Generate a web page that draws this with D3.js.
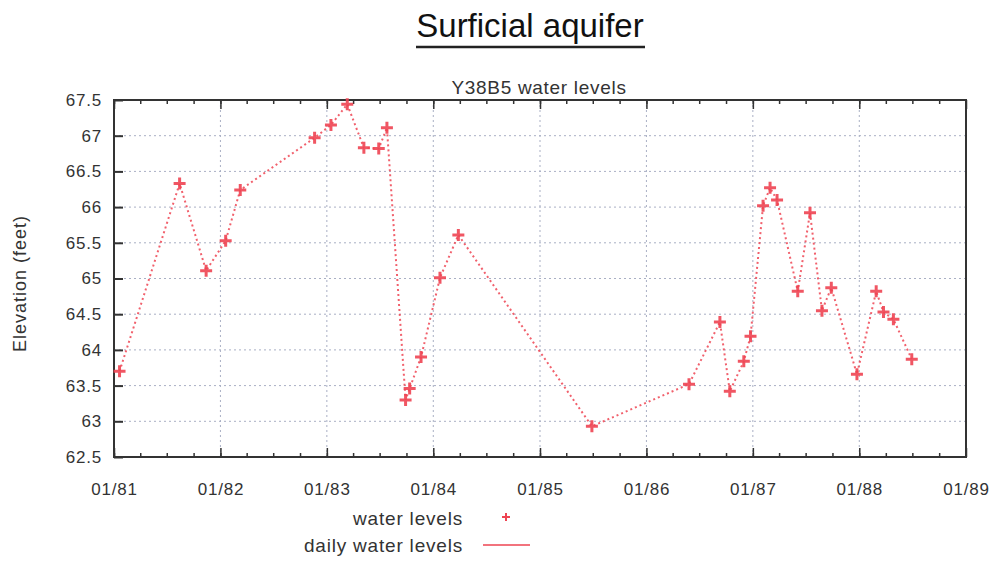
<!DOCTYPE html>
<html>
<head>
<meta charset="utf-8">
<script src="https://cdn.jsdelivr.net/npm/d3@7/dist/d3.min.js"></script>
<style>
  body { margin: 0; background: #fff; }
  svg { font-family: "Liberation Sans", Arial, sans-serif; }
  .axis path, .axis line { stroke: #333; }
  .axis text { fill: #333; font-size: 17px; letter-spacing: 0.8px; }
</style>
</head>
<body>
<div id="chart"></div>
<script>
var sampleDates = [
  '1981-01-20', '1981-08-14', '1981-11-13', '1982-01-19', '1982-03-10',
  '1982-11-20', '1983-01-15', '1983-03-12', '1983-05-08', '1983-06-28',
  '1983-07-26', '1983-09-28', '1983-10-12', '1983-11-20', '1984-01-24',
  '1984-03-27', '1985-06-28', '1986-05-27', '1986-09-10', '1986-10-14',
  '1986-12-01', '1986-12-24', '1987-02-05', '1987-03-01', '1987-03-25',
  '1987-06-04', '1987-07-16', '1987-08-26', '1987-09-27', '1987-12-24',
  '1988-02-28', '1988-03-24', '1988-04-27', '1988-06-29'
];
var waterLevels = [
  63.70, 66.33, 65.11, 65.53, 66.24,
  66.97, 67.15, 67.44, 66.83, 66.82,
  67.11, 63.30, 63.46, 63.90, 65.01,
  65.61, 62.93, 63.52, 64.39, 63.42,
  63.84, 64.19, 66.02, 66.27, 66.10,
  64.82, 65.92, 64.55, 64.87, 63.66,
  64.82, 64.53, 64.43, 63.87
];
var yTicks = [62.5, 63, 63.5, 64, 64.5, 65, 65.5, 66, 66.5, 67, 67.5];
var xTickYears = ['1981', '1982', '1983', '1984', '1985', '1986', '1987', '1988', '1989'];

var parseDate = d3.timeParse('%Y-%m-%d');
var parseYear = d3.timeParse('%Y');

var data = sampleDates.map(function(d, i) {
  return {date: parseDate(d), value: waterLevels[i]};
});
var xTicks = xTickYears.map(parseYear);

var svg = d3.select('#chart').append('svg')
    .attr('width', 995)
    .attr('height', 561);

var plot = {left: 114, right: 966, top: 100, bottom: 457};

var x = d3.scaleTime()
    .domain([xTicks[0], xTicks[xTicks.length - 1]])
    .range([plot.left, plot.right]);
var y = d3.scaleLinear()
    .domain([yTicks[0], yTicks[yTicks.length - 1]])
    .range([plot.bottom, plot.top]);

var red = '#ee4452';

// Titles.
svg.append('text')
    .attr('x', 530).attr('y', 37)
    .attr('text-anchor', 'middle')
    .style('font-size', '33px')
    .attr('fill', '#111')
    .text('Surficial aquifer');
svg.append('line')
    .attr('x1', 416).attr('x2', 645)
    .attr('y1', 47).attr('y2', 47)
    .attr('stroke', '#222').attr('stroke-width', 2.5);

svg.append('text')
    .attr('x', 539).attr('y', 94)
    .attr('text-anchor', 'middle')
    .style('font-size', '19px')
    .style('letter-spacing', '0.7px')
    .attr('fill', '#333')
    .text('Y38B5 water levels');

svg.append('text')
    .attr('transform', 'translate(26,' + ((plot.top + plot.bottom) / 2 + 5) + ') rotate(-90)')
    .attr('text-anchor', 'middle')
    .style('font-size', '18px')
    .style('letter-spacing', '1px')
    .attr('fill', '#333')
    .text('Elevation (feet)');

// Dotted grid at each major tick.
var grid = svg.append('g')
    .attr('stroke', '#a9afc4')
    .attr('stroke-width', 1)
    .attr('stroke-dasharray', '2,3');
grid.selectAll('.hgrid')
    .data(yTicks.slice(1, -1))
    .enter().append('line')
    .attr('x1', plot.left).attr('x2', plot.right)
    .attr('y1', function(d) { return y(d); })
    .attr('y2', function(d) { return y(d); });
grid.selectAll('.vgrid')
    .data(xTicks.slice(1, -1))
    .enter().append('line')
    .attr('y1', plot.top).attr('y2', plot.bottom)
    .attr('x1', function(d) { return x(d); })
    .attr('x2', function(d) { return x(d); });

// Axes, ticks pointing inward like gnuplot.
var fmtDate = d3.timeFormat('%m/%y');
var quarters = d3.timeMonth.every(3).range(xTicks[0], xTicks[xTicks.length - 1]);

function noDomain(g) {
  g.select('.domain').remove();
}

svg.append('g')
    .attr('class', 'axis')
    .attr('transform', 'translate(0,' + plot.bottom + ')')
    .call(d3.axisBottom(x).tickValues(quarters).tickSize(-4).tickFormat(''))
    .call(noDomain)
    .selectAll('line').attr('stroke-width', 1.5);
svg.append('g')
    .attr('class', 'axis')
    .attr('transform', 'translate(0,' + plot.top + ')')
    .call(d3.axisTop(x).tickValues(quarters).tickSize(-4).tickFormat(''))
    .call(noDomain)
    .selectAll('line').attr('stroke-width', 1.5);

svg.append('g')
    .attr('class', 'axis')
    .attr('transform', 'translate(0,' + plot.bottom + ')')
    .call(d3.axisBottom(x).tickValues(xTicks).tickSize(-9).tickPadding(26).tickFormat(fmtDate))
    .call(noDomain)
    .selectAll('line').attr('stroke-width', 1.5);
svg.append('g')
    .attr('class', 'axis')
    .attr('transform', 'translate(0,' + plot.top + ')')
    .call(d3.axisTop(x).tickValues(xTicks).tickSize(-9).tickFormat(''))
    .call(noDomain)
    .selectAll('line').attr('stroke-width', 1.5);

svg.append('g')
    .attr('class', 'axis')
    .attr('transform', 'translate(' + plot.left + ',0)')
    .call(d3.axisLeft(y).tickValues(yTicks).tickSize(-9).tickPadding(12).tickFormat(d3.format('')))
    .call(noDomain)
    .selectAll('line').attr('stroke-width', 2);

svg.append('rect')
    .attr('x', plot.left).attr('y', plot.top)
    .attr('width', plot.right - plot.left)
    .attr('height', plot.bottom - plot.top)
    .attr('fill', 'none')
    .attr('stroke', '#333')
    .attr('stroke-width', 2);

// Dotted line through the samples.
var line = d3.line()
    .x(function(d) { return x(d.date); })
    .y(function(d) { return y(d.value); });

svg.append('path')
    .datum(data)
    .attr('d', line)
    .attr('fill', 'none')
    .attr('stroke', red)
    .attr('stroke-opacity', 0.85)
    .attr('stroke-width', 2)
    .attr('stroke-dasharray', '2,3');

// Plus markers, drawn as two strokes.
function plusPath(r) {
  return 'M' + (-r) + ',0H' + r + 'M0,' + (-r) + 'V' + r;
}

svg.selectAll('.marker')
    .data(data)
    .enter().append('path')
    .attr('class', 'marker')
    .attr('d', plusPath(6))
    .attr('transform', function(d) {
      return 'translate(' + x(d.date) + ',' + y(d.value) + ')';
    })
    .attr('stroke', red)
    .attr('stroke-width', 3)
    .attr('stroke-opacity', 0.9);

// Legend.
var legend = svg.append('g')
    .attr('fill', '#333')
    .style('font-size', '19px')
    .style('letter-spacing', '0.8px');
legend.append('text')
    .attr('x', 463).attr('y', 525)
    .attr('text-anchor', 'end')
    .text('water levels');
legend.append('path')
    .attr('d', plusPath(4))
    .attr('transform', 'translate(506,517)')
    .attr('stroke', red)
    .attr('stroke-width', 2);
legend.append('text')
    .attr('x', 463).attr('y', 552)
    .attr('text-anchor', 'end')
    .text('daily water levels');
legend.append('line')
    .attr('x1', 483).attr('x2', 530)
    .attr('y1', 545).attr('y2', 545)
    .attr('stroke', red)
    .attr('stroke-width', 1.5);
</script>
</body>
</html>
